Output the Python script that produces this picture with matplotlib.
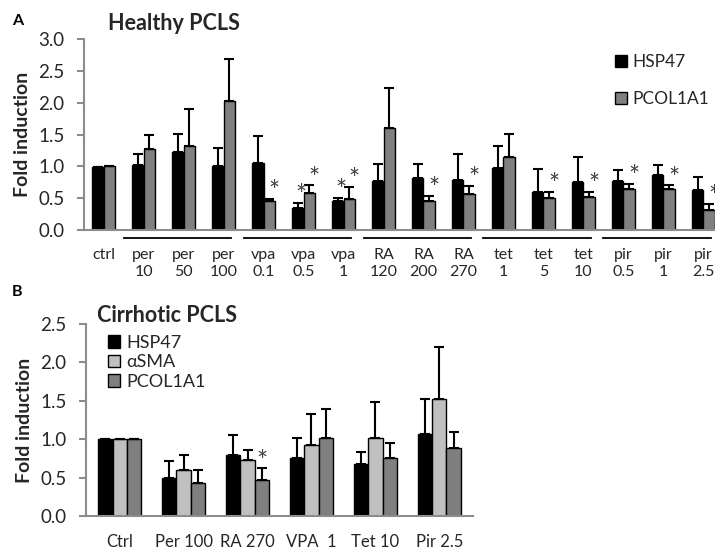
import matplotlib
matplotlib.use('Agg')
import matplotlib.pyplot as plt
import matplotlib.transforms as mtransforms
from matplotlib.patches import Patch
import numpy as np

plt.rcParams['font.family'] = ['Lato', 'DejaVu Sans']

# Panel A - healthy PCLS
a_labels = ['ctrl', 'per\n10', 'per\n50', 'per\n100', 'vpa\n0.1', 'vpa\n0.5', 'vpa\n1',
            'RA\n120', 'RA\n200', 'RA\n270', 'tet\n1', 'tet\n5', 'tet\n10',
            'pir\n0.5', 'pir\n1', 'pir\n2.5']
a_hsp = [0.99, 1.02, 1.23, 1.005, 1.06, 0.35, 0.46, 0.77, 0.82, 0.79, 0.97, 0.60, 0.76, 0.77, 0.86, 0.63]
a_hsp_err = [0.0, 0.18, 0.28, 0.29, 0.42, 0.08, 0.05, 0.26, 0.22, 0.40, 0.35, 0.36, 0.39, 0.18, 0.16, 0.20]
a_pcol = [1.0, 1.27, 1.32, 2.03, 0.45, 0.58, 0.49, 1.61, 0.45, 0.56, 1.14, 0.50, 0.52, 0.65, 0.65, 0.32]
a_pcol_err = [0.0, 0.23, 0.59, 0.66, 0.04, 0.12, 0.19, 0.63, 0.09, 0.13, 0.37, 0.10, 0.08, 0.08, 0.05, 0.09]
a_hsp_sig = [5, 6]
a_pcol_sig = [4, 5, 6, 8, 9, 11, 12, 13, 14, 15]
a_groups = [(1, 3), (4, 6), (7, 9), (10, 12), (13, 15)]

# Panel B - cirrhotic PCLS
b_labels = ['Ctrl', 'Per 100', 'RA 270', 'VPA  1', 'Tet 10', 'Pir 2.5']
b_hsp = [1.0, 0.49, 0.79, 0.76, 0.68, 1.07]
b_hsp_err = [0.0, 0.23, 0.27, 0.26, 0.16, 0.45]
b_sma = [1.0, 0.60, 0.73, 0.93, 1.01, 1.53]
b_sma_err = [0.0, 0.19, 0.13, 0.40, 0.48, 0.67]
b_pcol = [1.0, 0.43, 0.47, 1.01, 0.76, 0.89]
b_pcol_err = [0.0, 0.17, 0.15, 0.39, 0.19, 0.21]
b_pcol_sig = [2]

grey_spine = '#8c8c8c'
txt = '#262626'
star_col = '#404040'
ekw = dict(ecolor='black', elinewidth=1.5, capsize=3.5, capthick=1.5)

fig = plt.figure(figsize=(7.15, 5.5), dpi=100)

# ---------- A ----------
ax = fig.add_axes([0.1175, 0.5818, 0.8825, 0.347])
x = np.arange(len(a_labels))
w = 0.29
ax.bar(x - w/2, a_hsp, w, color='black', edgecolor='black', linewidth=1,
       yerr=[np.zeros(len(x)), a_hsp_err], error_kw=ekw, label='HSP47')
ax.bar(x + w/2, a_pcol, w, color='#808080', edgecolor='black', linewidth=1,
       yerr=[np.zeros(len(x)), a_pcol_err], error_kw=ekw, label='PCOL1A1')
for i in a_hsp_sig:
    ax.text(x[i] - w/2 + 0.07, a_hsp[i] + a_hsp_err[i] + 0.09, '*', ha='center', va='center',
            fontsize=19, color=star_col, clip_on=False)
for i in a_pcol_sig:
    ax.text(x[i] + w/2 + 0.12, a_pcol[i] + a_pcol_err[i] + 0.10, '*', ha='center', va='center',
            fontsize=19, color=star_col, clip_on=False)

ax.set_xlim(-0.49, 15.29)
ax.set_ylim(0, 3.0)
ax.set_yticks(np.arange(0, 3.01, 0.5))
ax.set_yticklabels([f'{v:.1f}' for v in np.arange(0, 3.01, 0.5)])
ax.set_xticks(x)
ax.set_xticklabels(a_labels, linespacing=1.3)
ax.tick_params(axis='x', length=0, pad=13, labelsize=11.5, labelcolor=txt)
ax.tick_params(axis='y', length=5, width=1.5, color=grey_spine, labelsize=13.5,
               labelcolor=txt, pad=9)
for s in ['top', 'right']:
    ax.spines[s].set_visible(False)
for s in ['left', 'bottom']:
    ax.spines[s].set_color(grey_spine)
    ax.spines[s].set_linewidth(1.5)
ax.set_ylabel('Fold induction', fontsize=14, fontweight='bold', color=txt, labelpad=5)

trans = mtransforms.blended_transform_factory(ax.transData, ax.transAxes)
for a0, a1 in a_groups:
    ax.plot([a0 - 0.5, a1 + 0.18], [-0.040, -0.040], color='black', lw=1.3,
            transform=trans, clip_on=False)

ax.legend(handles=[Patch(facecolor='black', edgecolor='black', label='HSP47'),
                   Patch(facecolor='#808080', edgecolor='black', label='PCOL1A1')],
          loc='upper left', bbox_to_anchor=(0.822, 0.985), frameon=False, fontsize=12.5,
          handlelength=0.7, handleheight=0.7, handletextpad=0.3, labelspacing=1.2,
          labelcolor=txt, borderaxespad=0.3)

fig.text(108/715, 1 - 23/550, 'Healthy PCLS', fontsize=15.5, fontweight='bold',
         color=txt, va='center', ha='left')
fig.text(12/715, 1 - 21/550, 'A', fontsize=11.5, fontweight='bold', color='black',
         va='center', ha='left')

# ---------- B ----------
bx = fig.add_axes([0.120, 0.0618, 0.541, 0.349])
xb = np.arange(len(b_labels))
wb = 0.223
bx.bar(xb - wb, b_hsp, wb, color='black', edgecolor='black', linewidth=1,
       yerr=[np.zeros(len(xb)), b_hsp_err], error_kw=ekw, label='HSP47')
bx.bar(xb, b_sma, wb, color='#c0c0c0', edgecolor='black', linewidth=1,
       yerr=[np.zeros(len(xb)), b_sma_err], error_kw=ekw, label='\u03b1SMA')
bx.bar(xb + wb, b_pcol, wb, color='#7f7f7f', edgecolor='black', linewidth=1,
       yerr=[np.zeros(len(xb)), b_pcol_err], error_kw=ekw, label='PCOL1A1')
for i in b_pcol_sig:
    bx.text(xb[i] + wb, b_pcol[i] + b_pcol_err[i] + 0.08, '*', ha='center', va='center',
            fontsize=19, color=star_col)

bx.set_xlim(-0.53, 5.52)
bx.set_ylim(0, 2.5)
bx.set_yticks(np.arange(0, 2.51, 0.5))
bx.set_yticklabels([f'{v:.1f}' for v in np.arange(0, 2.51, 0.5)])
bx.set_xticks(xb)
bx.set_xticklabels(b_labels)
bx.tick_params(axis='x', length=0, pad=13, labelsize=12, labelcolor=txt)
bx.tick_params(axis='y', length=5, width=1.5, color=grey_spine, labelsize=13.5,
               labelcolor=txt, pad=9)
for s in ['top', 'right']:
    bx.spines[s].set_visible(False)
for s in ['left', 'bottom']:
    bx.spines[s].set_color(grey_spine)
    bx.spines[s].set_linewidth(1.5)
bx.set_ylabel('Fold induction', fontsize=14, fontweight='bold', color=txt, labelpad=5)
bx.legend(loc='upper left', bbox_to_anchor=(0.015, 1.03), frameon=False, fontsize=13,
          handlelength=0.7, handleheight=0.7, handletextpad=0.3, labelspacing=0.2,
          labelcolor=txt)

fig.text(97/715, 1 - 316/550, 'Cirrhotic PCLS', fontsize=15.5, fontweight='bold',
         color=txt, va='center', ha='left')
fig.text(12/715, 1 - 292/550, 'B', fontsize=11.5, fontweight='bold', color='black',
         va='center', ha='left')

fig.savefig('out.png', dpi=100)
